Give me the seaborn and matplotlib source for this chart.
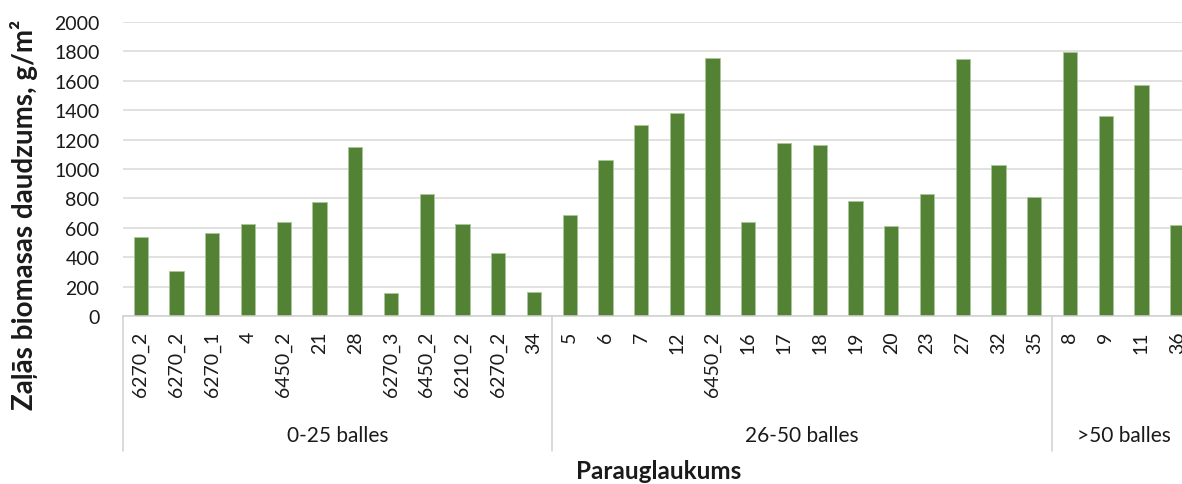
import numpy as np
import pandas as pd
import matplotlib
matplotlib.use('Agg')
import matplotlib.pyplot as plt
import matplotlib.transforms as mtransforms
import seaborn as sns

# Data
labels_low = ['6270_2', '6270_2', '6270_1', '4', '6450_2', '21', '28',
              '6270_3', '6450_2', '6210_2', '6270_2', '34']
values_low = [538, 305, 568, 627, 638, 773, 1147, 158, 828, 628, 428, 163]

labels_mid = ['5', '6', '7', '12', '6450_2', '16', '17', '18', '19', '20',
              '23', '27', '32', '35']
values_mid = [688, 1062, 1298, 1378, 1755, 638, 1177, 1160, 784, 612,
              830, 1748, 1025, 810]

labels_high = ['8', '9', '11', '36']
values_high = [1798, 1358, 1573, 619]

groups = ['0-25 balles', '26-50 balles', '>50 balles']

labels = labels_low + labels_mid + labels_high
values = values_low + values_mid + values_high
sizes = [len(labels_low), len(labels_mid), len(labels_high)]

df = pd.DataFrame({'pos': np.arange(len(labels)), 'label': labels, 'value': values})

sns.set_style('white')
plt.rcParams['font.family'] = ['Lato', 'DejaVu Sans']

fig = plt.figure(figsize=(11.82, 4.85), dpi=100)
# plot area runs past the right edge, as in the reference
ax = fig.add_axes([123 / 1182, 1 - 317 / 485, 1072 / 1182, 294 / 485])

sns.barplot(data=df, x='pos', y='value', color='#548235', width=0.40,
            edgecolor='#a9c79a', linewidth=0.6, saturation=1, ax=ax)

ax.set_ylim(0, 2000)
ax.set_yticks(np.arange(0, 2001, 200))
ax.set_xlim(-0.5, len(labels) - 0.5)
ax.yaxis.grid(True, color='#d9d9d9', linewidth=1.1)
ax.set_axisbelow(True)
for s in ['top', 'right', 'left']:
    ax.spines[s].set_visible(False)
ax.spines['bottom'].set_color('#d0d0d0')
ax.spines['bottom'].set_linewidth(1.1)

ax.tick_params(axis='y', length=0, pad=17, labelsize=14, labelcolor='#1a1a1a')
ax.set_xticks([])
ax.set_xlabel('')
ax.set_ylabel('')

trans = mtransforms.blended_transform_factory(ax.transData, ax.transAxes)

# category labels
for i, lab in enumerate(labels):
    ax.text(i, -0.05, lab, rotation=90, ha='center', va='top', fontsize=14,
            color='#1a1a1a', transform=trans, clip_on=False)

# group separators and group labels
edges = np.concatenate([[0], np.cumsum(sizes)]) - 0.5
for e in edges:
    ax.plot([e, e], [0, -0.46], color='#d0d0d0', linewidth=1.1,
            transform=trans, clip_on=False)
for g, a, b in zip(groups, edges[:-1], edges[1:]):
    ax.text((a + b) / 2, -0.405, g, ha='center', va='center', fontsize=15,
            color='#1a1a1a', transform=trans, clip_on=False)

fig.text(659 / 1182, 1 - 472 / 485, 'Parauglaukums', ha='center', va='center',
         fontsize=17.5, fontweight='bold', color='#1a1a1a')
fig.text(24 / 1182, 1 - 215 / 485, 'Zaļās biomasas daudzums, g/m²', rotation=90,
         ha='center', va='center', fontsize=20, fontweight='bold', color='#1a1a1a')

fig.savefig('out.png', dpi=100)
